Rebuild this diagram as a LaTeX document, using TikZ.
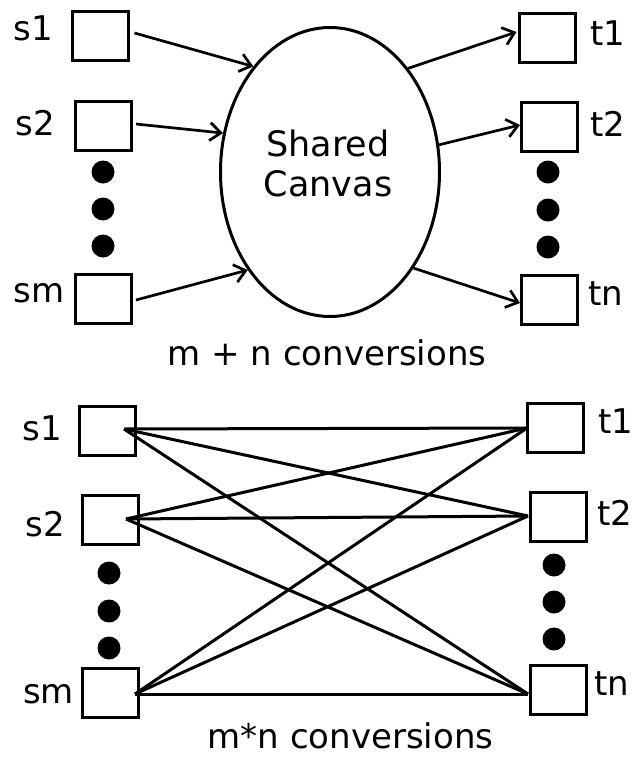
\documentclass[tikz,border=0pt]{standalone}
\usepackage{fontspec}
\setmainfont{DejaVu Sans}
\usetikzlibrary{arrows.meta,shapes.geometric,calc}

\begin{document}
\begin{tikzpicture}[x=1pt,y=-1pt,
  box/.style={draw,line width=3pt,minimum width=56pt,minimum height=49pt,inner sep=0pt},
  blob/.style={fill,circle,inner sep=0pt,minimum size=23pt},
  arr/.style={line width=2.7pt,-{Straight Barb[length=11pt,width=18pt,line width=2.7pt]}},
  link/.style={line width=3pt},
  lbl/.style={inner sep=0pt,anchor=base,font=\fontsize{34}{34}\selectfont}
]
\useasboundingbox (0,0) rectangle (633,758);

% ---------- upper diagram: m + n conversions through a shared canvas ----------
\node[box] (s1) at (100.5,36) {};
\node[box] (s2) at (103.5,126) {};
\node[box] (sm) at (103.5,299) {};
\node[box] (t1) at (547,37.5) {};
\node[box] (t2) at (549.5,127) {};
\node[box] (tn) at (549.5,300) {};

\foreach \y [count=\i] in {172,209,246} \node[blob] (ls\i) at (103,\y) {};
\foreach \y [count=\i] in {172,210,247} \node[blob] (lt\i) at (548,\y) {};

\node[draw,ellipse,line width=3pt,minimum width=219pt,minimum height=289pt,inner sep=0pt] (canvas) at (330,172) {};
\node[align=center,inner sep=0pt,font=\fontsize{35}{40}\selectfont] (canvastext) at (328,163) {Shared\\Canvas};

\node[lbl] (ls1) at (33.5,40) {s1};
\node[lbl] (ls2) at (35.5,135) {s2};
\node[lbl] (lsm) at (39,302) {sm};
\node[lbl] (lt1) at (608,45) {t1};
\node[lbl] (lt2) at (608,136.5) {t2};
\node[lbl] (ltn) at (606,305) {tn};

\draw[arr] ($(s1.east)+(4.5,-3)$) -- (canvas.126);
\draw[arr] ($(s2.east)+(3,-2)$) -- (canvas.160.5);
\draw[arr] ($(sm.east)+(3,1)$) -- (canvas.230.4);
\draw[arr] (canvas.53.2) -- ($(t1.west)+(-1,-5.5)$);
\draw[arr] (canvas.14.6) -- ($(t2.west)+(0,-2)$);
\draw[arr] (canvas.311.5) -- ($(tn.west)+(0,3)$);

\node[lbl,font=\fontsize{34}{34}\selectfont] (cap1) at (327,365) {m + n conversions};

% ---------- lower diagram: m*n direct conversions ----------
\node[box] (bs1) at (107.5,430.5) {};
\node[box] (bs2) at (110.5,520) {};
\node[box] (bsm) at (110.5,693) {};
\node[box] (bt1) at (555.5,427.5) {};
\node[box] (bt2) at (558.5,517) {};
\node[box] (btn) at (558.5,690) {};

\foreach \y [count=\i] in {573,611,648} \node[blob] (bls\i) at (109,\y) {};
\foreach \y [count=\i] in {565,602,639} \node[blob] (blt\i) at (554,\y) {};

\node[lbl] (bls1l) at (42.5,440) {s1};
\node[lbl] (bls2l) at (45,536) {s2};
\node[lbl] (bslm) at (48.5,703) {sm};
\node[lbl] (blt1l) at (616,433) {t1};
\node[lbl] (blt2l) at (615,525) {t2};
\node[lbl] (bltnl) at (611.5,695) {tn};

\coordinate (ps1) at ($(bs1.center)+(16.5,-1.5)$);
\coordinate (ps2) at ($(bs2.center)+(15.5,-1)$);
\coordinate (psm) at ($(bsm.center)+(24.5,1)$);
\coordinate (pt1) at ($(bt1.center)+(-28.5,0.5)$);
\coordinate (pt2) at ($(bt2.center)+(-30.5,-1)$);
\coordinate (ptn) at ($(btn.center)+(-30.5,4)$);

\foreach \a in {ps1,ps2,psm}
  \foreach \b in {pt1,pt2,ptn}
    \draw[link] (\a) -- (\b);

\node[lbl,font=\fontsize{34}{34}\selectfont] (cap2) at (350.5,748) {m*n conversions};
\end{tikzpicture}
\end{document}
